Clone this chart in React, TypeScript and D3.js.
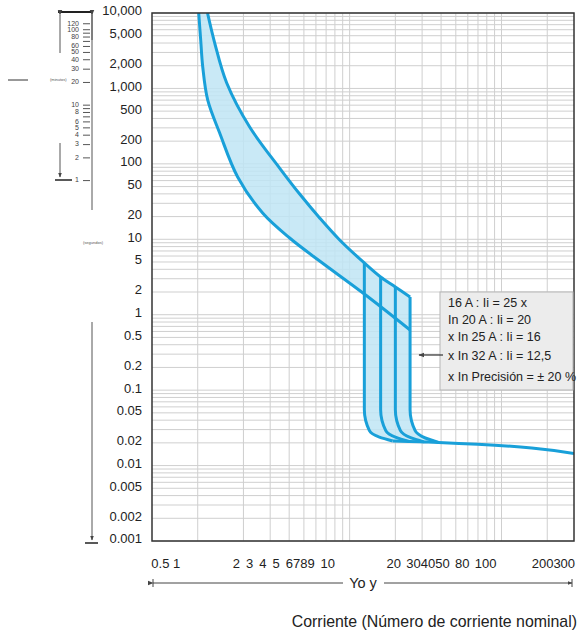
import React from 'react';
import * as d3 from 'd3';

type P = [number, number];

// Tripping curve data: [multiple of In, time in seconds]
const upperCurve: P[] = [[1.16, 10000], [1.294, 4000], [1.552, 1180], [2.198, 308], [3.46, 88], [4.69, 39.8], [6.35, 19.2], [8.6, 9.8], [12.5, 4.85], [16, 3.16], [20, 2.33], [25, 1.72]];
const lowerCurve: P[] = [[1.015, 10000], [1.046, 4385], [1.079, 1923], [1.163, 703], [1.395, 256], [1.832, 67], [2.675, 22.3], [4.03, 10.4], [6.35, 5.15], [12.5, 1.88], [25, 0.627]];
const instTops: P[] = [[12.5, 4.85], [16, 3.16], [20, 2.33], [25, 1.72]];
const knee12: P[] = [[12.5, 0.055], [13.5, 0.029], [15.7, 0.0238], [19.2, 0.0212]];
const knee16: P[] = [[16, 0.055], [17.3, 0.029], [20.2, 0.0236], [24.6, 0.0209]];
const knee20: P[] = [[20, 0.055], [21.6, 0.029], [25.2, 0.0234], [30.8, 0.0206]];
const knee25: P[] = [[25, 0.055], [27, 0.029], [31.5, 0.0232], [38.5, 0.0203]];
const tailCurve: P[] = [[19.2, 0.0212], [24.6, 0.0209], [30.8, 0.0206], [38.5, 0.0203], [300, 0.0145]];

const yTickValues = [10000, 5000, 2000, 1000, 500, 200, 100, 50, 20, 10, 5, 2, 1, 0.5, 0.2, 0.1, 0.05, 0.02, 0.01, 0.005, 0.002, 0.001];
const yTickLabels = ['10,000', '5,000', '2,000', '1,000', '500', '200', '100', '50', '20', '10', '5', '2', '1', '0.5', '0.2', '0.1', '0.05', '0.02', '0.01', '0.005', '0.002', '0.001'];
const xGridValues = [1, 2, 3, 4, 5, 6, 7, 8, 9, 10, 20, 30, 40, 50, 60, 70, 80, 90, 100, 200];
const xLabelGroups: { text: string; at: number; anchor: 'start' | 'end'; wordSpacing: number }[] = [
  { text: '0.5 1', at: 0.495, anchor: 'start', wordSpacing: 0 },
  { text: '2 3 4 5 6789 10', at: 1.7, anchor: 'start', wordSpacing: 2.4 },
  { text: '20 304050 80 100', at: 17.5, anchor: 'start', wordSpacing: 1.7 },
  { text: '200300', at: 305, anchor: 'end', wordSpacing: 0 },
];
const minuteTicks = [1, 2, 3, 4, 5, 6, 7, 8, 9, 10, 20, 30, 40, 50, 60, 70, 80, 90, 100, 120];
const minuteLabels = [120, 100, 80, 60, 50, 40, 30, 20, 10, 8, 6, 5, 4, 3, 2, 1];
const legendLines = ['16 A : Ii = 25 x', 'In 20 A : Ii = 20', 'x In 25 A : Ii = 16', 'x In 32 A : Ii = 12,5', 'x In Precisión = ± 20 %'];

const W = 582, H = 632;
const L = 152, R = 574, T = 13, B = 541;
const BLUE = '#19a0d9';
const FONT = 'Liberation Sans, Arial, sans-serif';

export default function App() {
  const x = d3.scaleLog().domain([0.5, 300]).range([L, R]);
  const y = d3.scaleLog().domain([0.001, 10000]).range([B, T]);
  const smooth = d3.line<P>().x(d => x(d[0])).y(d => y(d[1])).curve(d3.curveCatmullRom.alpha(0.5));
  const mono = d3.line<P>().x(d => x(d[0])).y(d => y(d[1])).curve(d3.curveMonotoneY);

  const hGrid: number[] = [];
  for (let e = -3; e <= 3; e++) for (let m = 1; m <= 9; m++) hGrid.push(m * Math.pow(10, e));
  hGrid.push(10000);

  const knees = [knee12, knee16, knee20, knee25];
  const kneePaths = knees.map((k, i) => [instTops[i], ...k] as P[]);

  const lowerTo12 = lowerCurve.filter(d => d[0] <= 12.5);
  const cont = (s: string | null) => (s || '').replace(/^M/, 'L');
  const fillD =
    (smooth(upperCurve) || '') +
    cont(mono(kneePaths[3])) +
    cont(mono([...tailCurve.slice(0, 4)].reverse())) +
    cont(mono([...kneePaths[0]].reverse())) +
    cont(smooth([...lowerTo12].reverse())) + 'Z';

  const legendY = [307, 324, 341, 360, 381];

  return (
    <svg width={W} height={H} style={{ position: 'absolute', left: 0, top: 0, background: '#fff' }} fontFamily={FONT}>
      <defs>
        <clipPath id="plotClip"><rect x={L} y={T} width={R - L} height={B - T} /></clipPath>
        <marker id="arrL" viewBox="0 0 10 10" refX="1" refY="5" markerWidth="6" markerHeight="6" orient="auto-start-reverse">
          <path d="M10,1 L0,5 L10,9 z" fill="#444" />
        </marker>
        <marker id="arrEnd" viewBox="0 0 10 10" refX="9" refY="5" markerWidth="5" markerHeight="5" orient="auto">
          <path d="M0,1 L10,5 L0,9 z" fill="#444" />
        </marker>
      </defs>

      {/* grid */}
      <g stroke="#cfcfcf" strokeWidth={1}>
        {hGrid.map((v, i) => <line key={'h' + i} x1={L} x2={R} y1={y(v)} y2={y(v)} />)}
        {xGridValues.map((v, i) => <line key={'v' + i} x1={x(v)} x2={x(v)} y1={T} y2={B} />)}
      </g>

      {/* curves */}
      <g clipPath="url(#plotClip)">
        <path d={fillD} fill="#bfe5f5" fillOpacity={0.85} stroke="none" />
        <path d={smooth(upperCurve) || ''} fill="none" stroke={BLUE} strokeWidth={3} />
        <path d={smooth(lowerCurve) || ''} fill="none" stroke={BLUE} strokeWidth={3} />
        {kneePaths.map((k, i) => <path key={'k' + i} d={mono(k) || ''} fill="none" stroke={BLUE} strokeWidth={3} />)}
        <path d={mono(tailCurve) || ''} fill="none" stroke={BLUE} strokeWidth={3} />
      </g>

      {/* frame */}
      <rect x={L} y={T} width={R - L} height={B - T} fill="none" stroke="#333" strokeWidth={1.5} />

      {/* y labels */}
      <g fontSize={13} fill="#222" textAnchor="end">
        {yTickValues.map((v, i) => (
          <text key={'yl' + i} x={142} y={y(v) - 1} dominantBaseline="middle">{yTickLabels[i]}</text>
        ))}
      </g>

      {/* x labels */}
      <g fontSize={13} fill="#222">
        {xLabelGroups.map((g, i) => (
          <text key={'xl' + i} x={x(g.at)} y={568} textAnchor={g.anchor} wordSpacing={g.wordSpacing}>{g.text}</text>
        ))}
      </g>

      {/* Yo y range bar */}
      <g stroke="#444" strokeWidth={1}>
        <line x1={153} x2={343} y1={583} y2={583} markerStart="url(#arrL)" />
        <line x1={384} x2={572} y1={583} y2={583} markerEnd="url(#arrEnd)" />
        <line x1={153} x2={153} y1={579} y2={587} />
        <line x1={572} x2={572} y1={579} y2={587} />
      </g>
      <text x={363} y={588} fontSize={14.5} fill="#222" textAnchor="middle">Yo y</text>
      <text x={577} y={627} fontSize={15.9} fill="#222" textAnchor="end">Corriente (Número de corriente nominal)</text>

      {/* legend */}
      <rect x={440} y={292} width={133} height={98} fill="#ececec" stroke="#b5b5b5" strokeWidth={1} />
      <g fontSize={12.5} fill="#222">
        {legendLines.map((t, i) => <text key={'lg' + i} x={448} y={legendY[i]}>{t}</text>)}
      </g>
      <line x1={443} x2={419} y1={355} y2={355} stroke="#333" strokeWidth={1.2} markerEnd="url(#arrEnd)" />

      {/* left time scale (minutes / seconds) */}
      <g stroke="#555" strokeWidth={1}>
        <line x1={92} x2={92} y1={13} y2={210} />
        <line x1={58} x2={93} y1={12} y2={12} stroke="#222" strokeWidth={2} />
        <line x1={60} x2={60} y1={15} y2={53} markerStart="url(#arrL)" />
        <line x1={92} x2={92} y1={15} y2={40} markerStart="url(#arrL)" />
        <line x1={60} x2={60} y1={143} y2={177} markerEnd="url(#arrEnd)" />
        <line x1={55} x2={72} y1={180} y2={180} stroke="#222" strokeWidth={1.5} />
        {minuteTicks.map((m, i) => <line key={'mt' + i} x1={83} x2={90} y1={y(m * 60)} y2={y(m * 60)} />)}
        <line x1={92} x2={92} y1={322} y2={540} markerEnd="url(#arrEnd)" />
        <line x1={85} x2={98} y1={543} y2={543} stroke="#222" strokeWidth={1.5} />
        <line x1={8} x2={28} y1={80} y2={80} stroke="#333" strokeWidth={1} />
      </g>
      <g fontSize={7} fill="#444" textAnchor="end">
        {minuteLabels.map((m, i) => (
          <text key={'ml' + i} x={79} y={y(m * 60)} dominantBaseline="middle">{m}</text>
        ))}
      </g>
      <text x={50} y={81} fontSize={4} fill="#555">(minutos)</text>
      <text x={83} y={244} fontSize={4} fill="#555">(segundos)</text>
    </svg>
  );
}
